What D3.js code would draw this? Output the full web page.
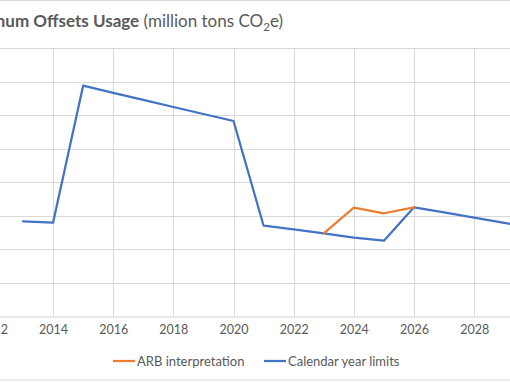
<!DOCTYPE html>
<html>
<head>
<meta charset="utf-8">
<script src="https://cdn.jsdelivr.net/npm/d3@7"></script>
<style>
  html, body { margin: 0; padding: 0; background: #fff; }
  svg { display: block; }
  text { font-family: Lato, "Open Sans", sans-serif; fill: #595959; }
</style>
</head>
<body>
<svg id="chart" width="510" height="382"></svg>
<script>
// ---- data ----
const calendarYears = [2013, 2014, 2015, 2016, 2017, 2018, 2019, 2020, 2021, 2022, 2023, 2024, 2025, 2026, 2027, 2028, 2029, 2030];
const calendarLimits = [14.15, 13.94, 34.41, 33.35, 32.29, 31.23, 30.18, 29.14, 13.49, 12.93, 12.36, 11.70, 11.25, 16.24, 15.47, 14.69, 13.91, 13.15];
const arbYears = [2023, 2024, 2025, 2026];
const arbValues = [12.36, 16.18, 15.35, 16.24];
const xTicks = [2012, 2014, 2016, 2018, 2020, 2022, 2024, 2026, 2028, 2030];
const yTicks = [0, 5, 10, 15, 20, 25, 30, 35, 40];
const seriesNames = ["ARB interpretation", "Calendar year limits"];
const seriesColors = ["#ED7D31", "#4472C4"];

// ---- layout ----
const svg = d3.select("#chart");
const plotTop = 48.3, plotBottom = 316;
const x = d3.scaleLinear().domain([2012, 2030]).range([-7.1, 534.3]);
const y = d3.scaleLinear().domain([0, 40]).range([plotBottom, plotTop]);

// chart frame
svg.append("rect").attr("x", -20).attr("y", 0.5).attr("width", 560).attr("height", 379.5)
  .attr("fill", "#fff").attr("stroke", "#d9d9d9").attr("stroke-width", 1);

// horizontal gridlines
svg.append("g").selectAll("line").data(yTicks.filter(d => d > 0)).join("line")
  .attr("x1", x(2012)).attr("x2", x(2030))
  .attr("y1", d => Math.round(y(d)) + 0.5).attr("y2", d => Math.round(y(d)) + 0.5)
  .attr("stroke", "#d9d9d9").attr("stroke-width", 1);

// vertical gridlines
svg.append("g").selectAll("line").data(xTicks).join("line")
  .attr("x1", d => Math.round(x(d)) + 0.5).attr("x2", d => Math.round(x(d)) + 0.5)
  .attr("y1", plotTop).attr("y2", plotBottom)
  .attr("stroke", "#d9d9d9").attr("stroke-width", 1);

// x axis
const xAxis = d3.axisBottom(x).tickValues(xTicks).tickFormat(d3.format("d")).tickSize(0).tickPadding(9);
const gx = svg.append("g").attr("transform", `translate(0,${Math.round(plotBottom) + 0.5})`).call(xAxis);
gx.select(".domain").attr("stroke", "#d0d0d0").attr("stroke-width", 1);
gx.selectAll("text").style("font-family", "Lato, sans-serif").style("font-size", "12.5px").attr("fill", "#595959");

// lines
const line = d3.line().x(d => x(d[0])).y(d => y(d[1]));
svg.append("path")
  .datum(calendarYears.map((yr, i) => [yr, calendarLimits[i]]))
  .attr("d", line).attr("fill", "none").attr("stroke", seriesColors[1])
  .attr("stroke-width", 2.25).attr("stroke-linejoin", "round").attr("stroke-linecap", "round");
svg.append("path")
  .datum(arbYears.map((yr, i) => [yr, arbValues[i]]))
  .attr("d", line).attr("fill", "none").attr("stroke", seriesColors[0])
  .attr("stroke-width", 2.25).attr("stroke-linejoin", "round").attr("stroke-linecap", "round");

// title
const title = svg.append("text").attr("x", 283).attr("y", 27).attr("text-anchor", "end").style("font-size", "17px");
title.append("tspan").style("font-weight", "bold").text("Maximum Offsets Usage");
title.append("tspan").text(" (million tons CO");
title.append("tspan").style("font-size", "11.5px").attr("dy", 4).text("2");
title.append("tspan").attr("dy", -4).text("e)");

// legend
const legendX = [113, 264];
const legendY = 361;
const lg = svg.append("g").selectAll("g").data(seriesNames).join("g")
  .attr("transform", (d, i) => `translate(${legendX[i]},${legendY})`);
lg.append("line").attr("x1", 0).attr("x2", 22).attr("y1", 0).attr("y2", 0)
  .attr("stroke", (d, i) => seriesColors[i]).attr("stroke-width", 2.25);
lg.append("text").attr("x", 24).attr("y", 4.5).style("font-size", "13px").text(d => d);
</script>
</body>
</html>
